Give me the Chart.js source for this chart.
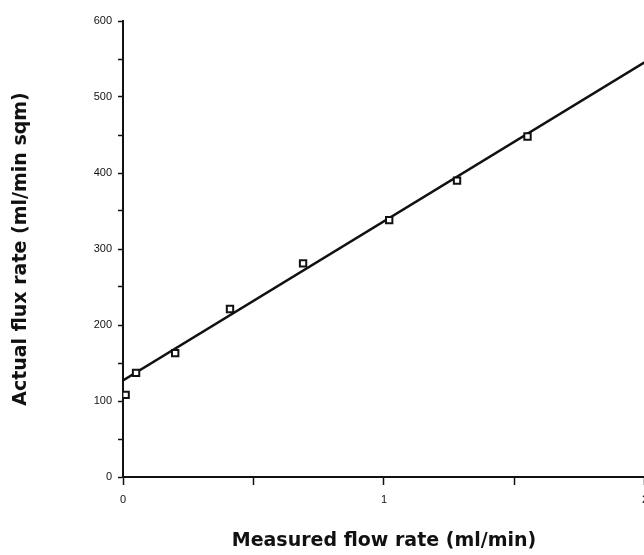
<!DOCTYPE html>
<html>
<head>
<meta charset="utf-8">
<script src="https://cdn.jsdelivr.net/npm/chart.js@4"></script>
<style>
  html, body { margin: 0; padding: 0; background: #fff; overflow: hidden; width: 644px; height: 555px; }
  #wrap { width: 644px; height: 555px; overflow: hidden; position: relative; }
  #chart1 { position: absolute; left: 0; top: 0; }
</style>
</head>
<body>
<div id="wrap"><canvas id="chart1" width="656" height="555"></canvas></div>
<script>
// measured points
var flowRate = [0.01, 0.05, 0.2, 0.41, 0.69, 1.02, 1.28, 1.55];
var fluxRate = [108, 137, 163, 221, 281, 338, 390, 448];
// fitted line, end points
var fitX = [0, 2];
var fitY = [127, 546];

var xTicks = [0, 1, 2];
var yTicks = [0, 100, 200, 300, 400, 500, 600];

var pts = flowRate.map(function (x, i) { return { x: x, y: fluxRate[i] }; });
var fit = fitX.map(function (x, i) { return { x: x, y: fitY[i] }; });

var titleFont = { family: 'DejaVu Sans, Liberation Sans, Arial', size: 19, weight: 'bold' };
var tickFont = { family: 'Liberation Sans, Arial', size: 11 };

var ctx1 = document.getElementById('chart1').getContext('2d');
var chart1 = new Chart(ctx1, {
  type: 'scatter',
  data: {
    datasets: [{
      label: 'Measured',
      data: pts,
      pointStyle: 'rect',
      pointRadius: 4.5,
      pointBorderWidth: 2,
      borderColor: '#111',
      backgroundColor: '#fff',
      showLine: false
    }, {
      label: 'Fit',
      data: fit,
      showLine: true,
      borderColor: '#111',
      borderWidth: 2.5,
      pointRadius: 0
    }]
  },
  options: {
    responsive: false,
    animation: false,
    layout: { autoPadding: false, padding: { top: 21, left: 0, right: 0, bottom: 0 } },
    plugins: {
      legend: { display: false },
      tooltip: { enabled: false }
    },
    scales: {
      x: {
        type: 'linear',
        min: 0,
        max: 2,
        afterFit: function (s) { s.height = 78; },
        afterBuildTicks: function (s) {
          s.ticks = [0, 0.5, 1, 1.5, 2].map(function (v) { return { value: v }; });
        },
        ticks: {
          color: '#111',
          padding: 8,
          font: tickFont,
          callback: function (v) { return xTicks.indexOf(v) >= 0 ? String(v) : ''; }
        },
        grid: { drawOnChartArea: false, color: '#111', tickLength: 8, tickWidth: 1.5 },
        border: { color: '#111', width: 2 },
        title: {
          display: true,
          text: 'Measured flow rate (ml/min)',
          color: '#111',
          font: titleFont,
          padding: { top: 0, bottom: 3 }
        }
      },
      y: {
        min: 0,
        max: 600,
        afterFit: function (s) { s.width = 123; },
        ticks: {
          stepSize: 50,
          color: '#111',
          padding: 6,
          font: tickFont,
          callback: function (v) { return yTicks.indexOf(v) >= 0 ? String(v) : ''; }
        },
        grid: { drawOnChartArea: false, color: '#111', tickLength: 5, tickWidth: 1.5 },
        border: { color: '#111', width: 2 },
        title: {
          display: true,
          text: 'Actual flux rate (ml/min sqm)',
          color: '#111',
          font: titleFont,
          padding: { top: 10, bottom: 0 }
        }
      }
    }
  }
});
</script>
</body>
</html>
